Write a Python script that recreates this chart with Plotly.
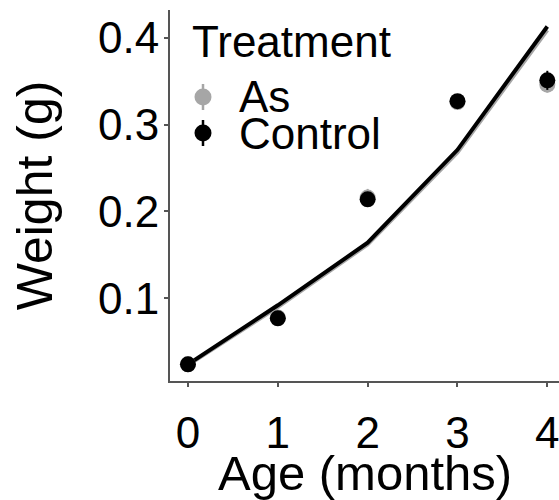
import plotly.graph_objects as go

# Mean body weight by age, two treatment groups
age = [0, 1, 2, 3, 4]
as_weight = [0.024, 0.078, 0.216, 0.326, 0.346]
as_err = [0.002, 0.003, 0.010, 0.005, 0.009]
ctrl_weight = [0.024, 0.077, 0.214, 0.327, 0.351]
ctrl_err = [0.002, 0.003, 0.006, 0.005, 0.011]

# Fitted growth curves
as_fit = [0.023, 0.090, 0.162, 0.268, 0.409]
ctrl_fit = [0.024, 0.092, 0.164, 0.271, 0.413]

y_ticks = [0.1, 0.2, 0.3, 0.4]
x_ticks = [0, 1, 2, 3, 4]
groups = ["As", "Control"]
colors = {"As": "#a6a6a6", "Control": "#000000"}

FONT = "Liberation Sans, Arial, sans-serif"
W, H = 559, 500
M = dict(l=170, r=0, t=10, b=119)

fig = go.Figure()

for name, fit in (("As", as_fit), ("Control", ctrl_fit)):
    fig.add_trace(go.Scatter(
        x=age, y=fit, mode="lines",
        line=dict(color=colors[name], width=4),
        showlegend=False, hoverinfo="skip",
    ))

for name, w, e in (("As", as_weight, as_err), ("Control", ctrl_weight, ctrl_err)):
    fig.add_trace(go.Scatter(
        x=age, y=w, mode="markers", name=name,
        marker=dict(color=colors[name], size=16, symbol="circle"),
        error_y=dict(type="data", array=e, width=0, thickness=2, color=colors[name]),
        showlegend=False,
    ))

# Pixel -> paper helpers for the hand-placed legend and x-axis title
pw = W - M["l"] - M["r"]
ph = H - M["t"] - M["b"]


def px_x(p):
    return (p - M["l"]) / pw


def px_y(p):
    return (H - M["b"] - p) / ph


annotations = [
    dict(
        text="Treatment", xref="paper", yref="paper",
        x=px_x(190), y=px_y(41), xanchor="left", yanchor="middle",
        showarrow=False, font=dict(family=FONT, size=44, color="black"),
    ),
    dict(
        text="Age (months)", xref="paper", yref="paper",
        x=0.5, y=px_y(473), xanchor="center", yanchor="middle",
        showarrow=False, font=dict(family=FONT, size=49, color="black"),
    ),
]
shapes = []
# Legend key = point with vertical error bar
for name, cy in zip(groups, (97, 133)):
    annotations.append(dict(
        text=name, xref="paper", yref="paper",
        x=px_x(237), y=px_y(cy), xanchor="left", yanchor="middle",
        showarrow=False, font=dict(family=FONT, size=44, color="black"),
    ))
    shapes.append(dict(
        type="line", xref="paper", yref="paper",
        x0=px_x(203), x1=px_x(203), y0=px_y(cy - 13), y1=px_y(cy + 13),
        line=dict(color=colors[name], width=2.5),
    ))
    shapes.append(dict(
        type="circle", xref="paper", yref="paper",
        xsizemode="pixel", ysizemode="pixel",
        xanchor=px_x(203), yanchor=px_y(cy),
        x0=-8.5, x1=8.5, y0=-8.5, y1=8.5,
        fillcolor=colors[name], line=dict(width=0),
    ))

axis_common = dict(
    showgrid=False, zeroline=False, showline=True, automargin=False,
    linecolor="#555555", linewidth=2,
    ticks="outside", ticklen=4, tickwidth=1.5, tickcolor="#555555",
    tickfont=dict(family=FONT, size=44, color="black"),
    ticklabeloverflow="allow",
)

fig.update_layout(
    width=W, height=H, margin=M,
    paper_bgcolor="white", plot_bgcolor="white",
    showlegend=False,
    xaxis=dict(
        range=[-0.2, 4.13], tickvals=x_ticks, ticktext=[str(v) for v in x_ticks],
        ticklabelstandoff=8,
        **axis_common,
    ),
    yaxis=dict(
        range=[0.0048, 0.432], tickvals=y_ticks, ticktext=[str(v) for v in y_ticks],
        ticklabelstandoff=-4,
        title=dict(text="Weight (g)", font=dict(family=FONT, size=50, color="black"), standoff=30),
        **axis_common,
    ),
    annotations=annotations,
    shapes=shapes,
)

fig.write_html("out.html")
